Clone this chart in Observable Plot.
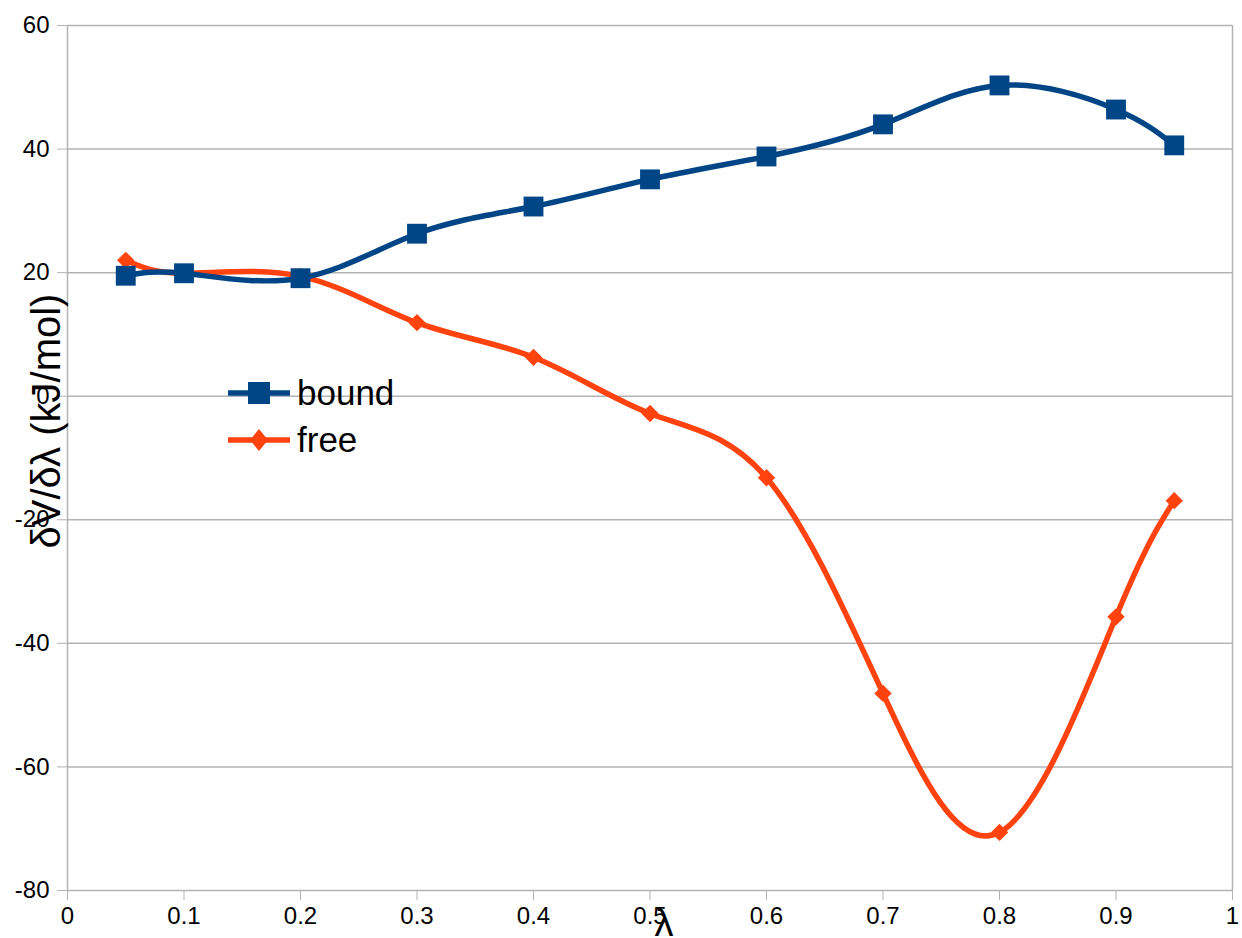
<!DOCTYPE html>
<html>
<head>
<meta charset="utf-8">
<script src="https://cdn.jsdelivr.net/npm/d3@7"></script>
<script src="https://cdn.jsdelivr.net/npm/@observablehq/plot@0.6"></script>
<style>
  html, body { margin: 0; padding: 0; background: #fff; }
  #wrap { position: relative; width: 1242px; height: 938px; font-family: "Liberation Sans", Arial, sans-serif; }
  #legend { position: absolute; left: 228px; top: 369px; }
  .lg-row { display: flex; align-items: center; height: 47px; font-size: 35px; color: #000; }
  .lg-row svg { margin-right: 7px; }
  #ytitle { position: absolute; left: 46px; top: 421px; transform: translate(-50%, -50%) rotate(-90deg); font-size: 40px; white-space: nowrap; }
  #xtitle { position: absolute; left: 664px; top: 903px; transform: translateX(-50%); font-size: 38px; line-height: 40px; }
</style>
</head>
<body>
<div id="wrap">
  <div id="chart"></div>
  <div id="legend"></div>
  <div id="ytitle">δV/δλ (kJ/mol)</div>
  <div id="xtitle">λ</div>
</div>
<script>
const lambda = [0.05, 0.1, 0.2, 0.3, 0.4, 0.5, 0.6, 0.7, 0.8, 0.9, 0.95];
const bound = [19.5, 19.9, 19.1, 26.3, 30.7, 35.1, 38.8, 44.0, 50.3, 46.4, 40.6];
const free = [22.0, 19.9, 19.4, 11.9, 6.3, -2.8, -13.2, -48.1, -70.6, -35.7, -16.9];
const xTicks = [0, 0.1, 0.2, 0.3, 0.4, 0.5, 0.6, 0.7, 0.8, 0.9, 1];
const yTicks = [-80, -60, -40, -20, 0, 20, 40, 60];
const seriesNames = ["bound", "free"];
const seriesColors = ["#004586", "#ff420e"];

const rows = [];
lambda.forEach((l, i) => {
  rows.push({series: "bound", x: l, y: bound[i]});
  rows.push({series: "free", x: l, y: free[i]});
});
const bRows = rows.filter(d => d.series === "bound");
const fRows = rows.filter(d => d.series === "free");

const chart = Plot.plot({
  width: 1242,
  height: 938,
  marginLeft: 67,
  marginRight: 10,
  marginTop: 25,
  marginBottom: 48,
  style: {fontFamily: "'Liberation Sans', Arial, sans-serif", background: "#fff"},
  x: {domain: [0, 1], ticks: xTicks},
  y: {domain: [-80, 60], ticks: yTicks},
  marks: [
    Plot.ruleY(yTicks, {stroke: "#b3b3b3", strokeWidth: 1.5}),
    Plot.ruleX([0, 1], {stroke: "#b3b3b3", strokeWidth: 1.5}),
    Plot.axisY(yTicks, {tickSize: 10, tickPadding: 8, stroke: "#b3b3b3", fill: "#000", fontSize: 24, label: null, tickFormat: d => String(d).replace("−", "-")}),
    Plot.axisX(xTicks, {tickSize: 10, tickPadding: 6, stroke: "#b3b3b3", fill: "#000", fontSize: 24, label: null, tickFormat: d => String(d), textAnchor: "middle"}),
    Plot.line(fRows, {x: "x", y: "y", stroke: seriesColors[1], strokeWidth: 5.5, curve: "natural"}),
    Plot.line(bRows, {x: "x", y: "y", stroke: seriesColors[0], strokeWidth: 5.5, curve: "natural"}),
    Plot.dot(fRows, {x: "x", y: "y", symbol: "diamond2", r: 7.8, fill: seriesColors[1], stroke: "none"}),
    Plot.dot(bRows, {x: "x", y: "y", symbol: "square", r: 11.2, fill: seriesColors[0], stroke: "none"})
  ]
});
document.getElementById("chart").appendChild(chart);

// legend
const legend = document.getElementById("legend");
seriesNames.forEach((name, i) => {
  const row = document.createElement("div");
  row.className = "lg-row";
  const svg = d3.create("svg").attr("width", 62).attr("height", 30);
  svg.append("line").attr("x1", 0).attr("x2", 62).attr("y1", 15).attr("y2", 15)
    .attr("stroke", seriesColors[i]).attr("stroke-width", 5.5);
  if (i === 0) {
    svg.append("rect").attr("x", 20).attr("y", 4).attr("width", 22).attr("height", 22).attr("fill", seriesColors[i]);
  } else {
    svg.append("path").attr("d", "M31,4 L40,15 L31,26 L22,15 Z").attr("fill", seriesColors[i]);
  }
  row.appendChild(svg.node());
  const t = document.createElement("span");
  t.textContent = name;
  row.appendChild(t);
  legend.appendChild(row);
});
</script>
</body>
</html>
